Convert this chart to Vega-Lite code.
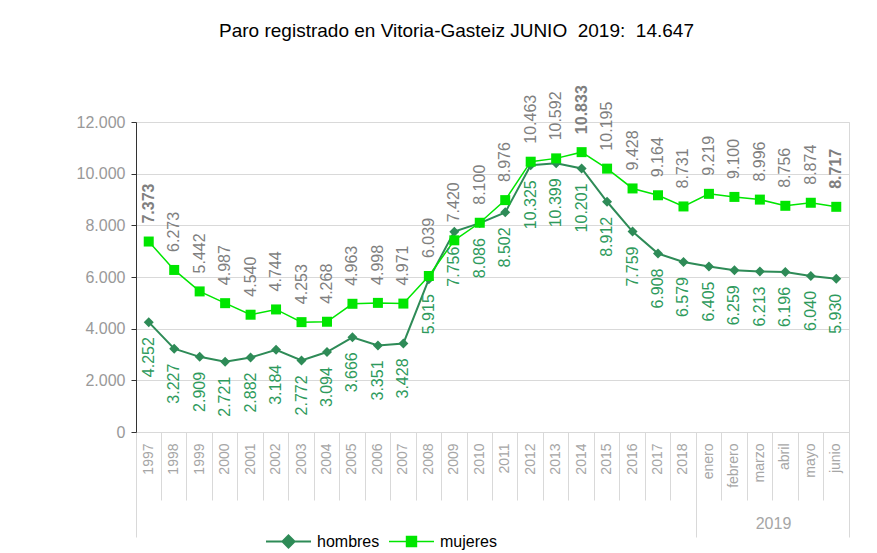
{
  "$schema": "https://vega.github.io/schema/vega-lite/v6.json",
  "width": 713,
  "height": 310,
  "autosize": {"type": "none"},
  "padding": {"left": 136, "top": 122, "right": 28, "bottom": 121},
  "title": {
    "text": "Paro registrado en Vitoria-Gasteiz JUNIO\u00a0 2019:\u00a0 14.647",
    "frame": "group",
    "anchor": "middle",
    "dx": -36,
    "offset": 44,
    "fontSize": 19,
    "fontWeight": "normal",
    "color": "#000000"
  },
  "config": {
    "font": "Liberation Sans",
    "locale": {"number": {"decimal": ",", "thousands": ".", "grouping": [3], "currency": ["", " €"]}},
    "view": {"stroke": "#d9d9d9"},
    "legend": {"padding": 0}
  },
  "data": {
    "values": [
      {"cat": "1997", "serie": "hombres", "valor": 4252},
      {"cat": "1998", "serie": "hombres", "valor": 3227},
      {"cat": "1999", "serie": "hombres", "valor": 2909},
      {"cat": "2000", "serie": "hombres", "valor": 2721},
      {"cat": "2001", "serie": "hombres", "valor": 2882},
      {"cat": "2002", "serie": "hombres", "valor": 3184},
      {"cat": "2003", "serie": "hombres", "valor": 2772},
      {"cat": "2004", "serie": "hombres", "valor": 3094},
      {"cat": "2005", "serie": "hombres", "valor": 3666},
      {"cat": "2006", "serie": "hombres", "valor": 3351},
      {"cat": "2007", "serie": "hombres", "valor": 3428},
      {"cat": "2008", "serie": "hombres", "valor": 5915},
      {"cat": "2009", "serie": "hombres", "valor": 7756},
      {"cat": "2010", "serie": "hombres", "valor": 8086},
      {"cat": "2011", "serie": "hombres", "valor": 8502},
      {"cat": "2012", "serie": "hombres", "valor": 10325},
      {"cat": "2013", "serie": "hombres", "valor": 10399},
      {"cat": "2014", "serie": "hombres", "valor": 10201},
      {"cat": "2015", "serie": "hombres", "valor": 8912},
      {"cat": "2016", "serie": "hombres", "valor": 7759},
      {"cat": "2017", "serie": "hombres", "valor": 6908},
      {"cat": "2018", "serie": "hombres", "valor": 6579},
      {"cat": "enero", "serie": "hombres", "valor": 6405},
      {"cat": "febrero", "serie": "hombres", "valor": 6259},
      {"cat": "marzo", "serie": "hombres", "valor": 6213},
      {"cat": "abril", "serie": "hombres", "valor": 6196},
      {"cat": "mayo", "serie": "hombres", "valor": 6040},
      {"cat": "junio", "serie": "hombres", "valor": 5930},
      {"cat": "1997", "serie": "mujeres", "valor": 7373},
      {"cat": "1998", "serie": "mujeres", "valor": 6273},
      {"cat": "1999", "serie": "mujeres", "valor": 5442},
      {"cat": "2000", "serie": "mujeres", "valor": 4987},
      {"cat": "2001", "serie": "mujeres", "valor": 4540},
      {"cat": "2002", "serie": "mujeres", "valor": 4744},
      {"cat": "2003", "serie": "mujeres", "valor": 4253},
      {"cat": "2004", "serie": "mujeres", "valor": 4268},
      {"cat": "2005", "serie": "mujeres", "valor": 4963},
      {"cat": "2006", "serie": "mujeres", "valor": 4998},
      {"cat": "2007", "serie": "mujeres", "valor": 4971},
      {"cat": "2008", "serie": "mujeres", "valor": 6039},
      {"cat": "2009", "serie": "mujeres", "valor": 7420},
      {"cat": "2010", "serie": "mujeres", "valor": 8100},
      {"cat": "2011", "serie": "mujeres", "valor": 8976},
      {"cat": "2012", "serie": "mujeres", "valor": 10463},
      {"cat": "2013", "serie": "mujeres", "valor": 10592},
      {"cat": "2014", "serie": "mujeres", "valor": 10833},
      {"cat": "2015", "serie": "mujeres", "valor": 10195},
      {"cat": "2016", "serie": "mujeres", "valor": 9428},
      {"cat": "2017", "serie": "mujeres", "valor": 9164},
      {"cat": "2018", "serie": "mujeres", "valor": 8731},
      {"cat": "enero", "serie": "mujeres", "valor": 9219},
      {"cat": "febrero", "serie": "mujeres", "valor": 9100},
      {"cat": "marzo", "serie": "mujeres", "valor": 8996},
      {"cat": "abril", "serie": "mujeres", "valor": 8756},
      {"cat": "mayo", "serie": "mujeres", "valor": 8874},
      {"cat": "junio", "serie": "mujeres", "valor": 8717}
    ]
  },
  "encoding": {
    "y": {
      "field": "valor",
      "type": "quantitative",
      "scale": {"domain": [0, 12000], "nice": false},
      "axis": {
        "title": null,
        "values": [0, 2000, 4000, 6000, 8000, 10000, 12000],
        "format": ",d",
        "labelFontSize": 16,
        "labelColor": "#999999",
        "labelPadding": 6,
        "tickSize": 5,
        "tickColor": "#333333",
        "domainColor": "#333333",
        "gridColor": "#d9d9d9",
        "grid": true
      }
    }
  },
  "layer": [
    {
      "transform": [{"filter": "datum.serie === 'hombres'"}],
      "mark": {"type": "line", "color": "#2e8b57", "strokeWidth": 2},
      "encoding": {
        "x": {
          "field": "cat", "type": "nominal", "sort": null,
          "scale": {"type": "band", "paddingInner": 0, "paddingOuter": 0},
          "axis": {
            "orient": "bottom", "title": null, "labelAngle": 270, "labelFontSize": 14,
            "labelColor": "#a6a6a6", "labelPadding": 11, "ticks": false, "tickSize": 0,
            "domainColor": "#d9d9d9", "grid": false
          }
        }
      }
    },
    {
      "transform": [{"filter": "datum.serie === 'hombres'"}],
      "mark": {"type": "point", "shape": "diamond", "filled": true, "size": 100, "opacity": 1},
      "encoding": {
        "x": {
          "field": "cat", "type": "nominal", "sort": null,
          "axis": {
            "orient": "bottom", "title": null, "labels": false, "domain": false, "grid": false,
            "ticks": true, "tickSize": 68, "tickColor": "#d9d9d9", "bandPosition": 0
          }
        },
        "color": {
          "field": "serie", "type": "nominal",
          "scale": {"domain": ["hombres"], "range": ["#2e8b57"]},
          "legend": {
            "orient": "none", "legendX": 129, "legendY": 396, "title": null,
            "symbolType": "M-1,0H1M0,-0.27L0.27,0L0,0.27L-0.27,0Z", "symbolSize": 2025,
            "labelFontSize": 16, "labelColor": "#000000", "labelOffset": 5,
            "symbolStrokeWidth": 2, "symbolStrokeColor": "#2e8b57", "symbolFillColor": "#2e8b57",
            "symbolOpacity": 1
          }
        }
      }
    },
    {
      "transform": [{"filter": "datum.serie === 'mujeres'"}],
      "mark": {"type": "line", "color": "#00e600", "strokeWidth": 1.5},
      "encoding": {
        "x": {
          "field": "cat", "type": "nominal", "sort": null,
          "axis": {
            "orient": "bottom", "labels": false, "domain": false, "grid": false,
            "ticks": true, "tickSize": 105, "tickColor": "#d9d9d9", "bandPosition": 0,
            "values": ["1997", "enero"],
            "title": "2019", "titleX": 637, "titleY": 91, "titleAngle": 0,
            "titleAlign": "center", "titleBaseline": "middle", "titleFontSize": 16,
            "titleFontWeight": "normal", "titleColor": "#a6a6a6"
          }
        }
      }
    },
    {
      "transform": [{"filter": "datum.serie === 'mujeres'"}],
      "mark": {"type": "point", "shape": "square", "filled": true, "size": 100, "opacity": 1},
      "encoding": {
        "x": {
          "field": "cat", "type": "nominal", "sort": null,
          "axis": {
            "orient": "bottom", "title": null, "labels": false, "domain": false, "grid": false,
            "ticks": true, "tickSize": 105, "tickColor": "#d9d9d9", "bandPosition": 1,
            "values": ["junio"]
          }
        },
        "color": {
          "field": "serie", "type": "nominal",
          "scale": {"domain": ["mujeres"], "range": ["#00e600"]},
          "legend": {
            "orient": "none", "legendX": 252, "legendY": 396, "title": null,
            "symbolType": "M-1,0H1M-0.22,-0.22H0.22V0.22H-0.22Z", "symbolSize": 2025,
            "labelFontSize": 16, "labelColor": "#000000", "labelOffset": 5,
            "symbolStrokeWidth": 1.5, "symbolStrokeColor": "#00e600", "symbolFillColor": "#00e600",
            "symbolOpacity": 1
          }
        }
      }
    },
    {
      "transform": [{"filter": "datum.serie === 'mujeres' && datum.cat !== '1997' && datum.cat !== '2014' && datum.cat !== 'junio'"}],
      "mark": {"type": "text", "angle": 270, "align": "left", "baseline": "middle", "dx": 18, "fontSize": 16, "color": "#7f7f7f"},
      "encoding": {
        "x": {"field": "cat", "type": "nominal", "sort": null, "axis": null},
        "text": {"field": "valor", "type": "quantitative", "format": ",d"}
      }
    },
    {
      "transform": [{"filter": "datum.serie === 'mujeres' && (datum.cat === '1997' || datum.cat === '2014' || datum.cat === 'junio')"}],
      "mark": {"type": "text", "angle": 270, "align": "left", "baseline": "middle", "dx": 18, "fontSize": 16, "fontWeight": "bold", "color": "#7f7f7f"},
      "encoding": {
        "x": {"field": "cat", "type": "nominal", "sort": null, "axis": null},
        "text": {"field": "valor", "type": "quantitative", "format": ",d"}
      }
    },
    {
      "transform": [{"filter": "datum.serie === 'hombres'"}],
      "mark": {"type": "text", "angle": 270, "align": "right", "baseline": "middle", "dx": -15, "fontSize": 16, "color": "#2e9a5c"},
      "encoding": {
        "x": {"field": "cat", "type": "nominal", "sort": null, "axis": null},
        "text": {"field": "valor", "type": "quantitative", "format": ",d"}
      }
    }
  ],
  "resolve": {"axis": {"x": "independent"}, "scale": {"color": "independent"}}
}
